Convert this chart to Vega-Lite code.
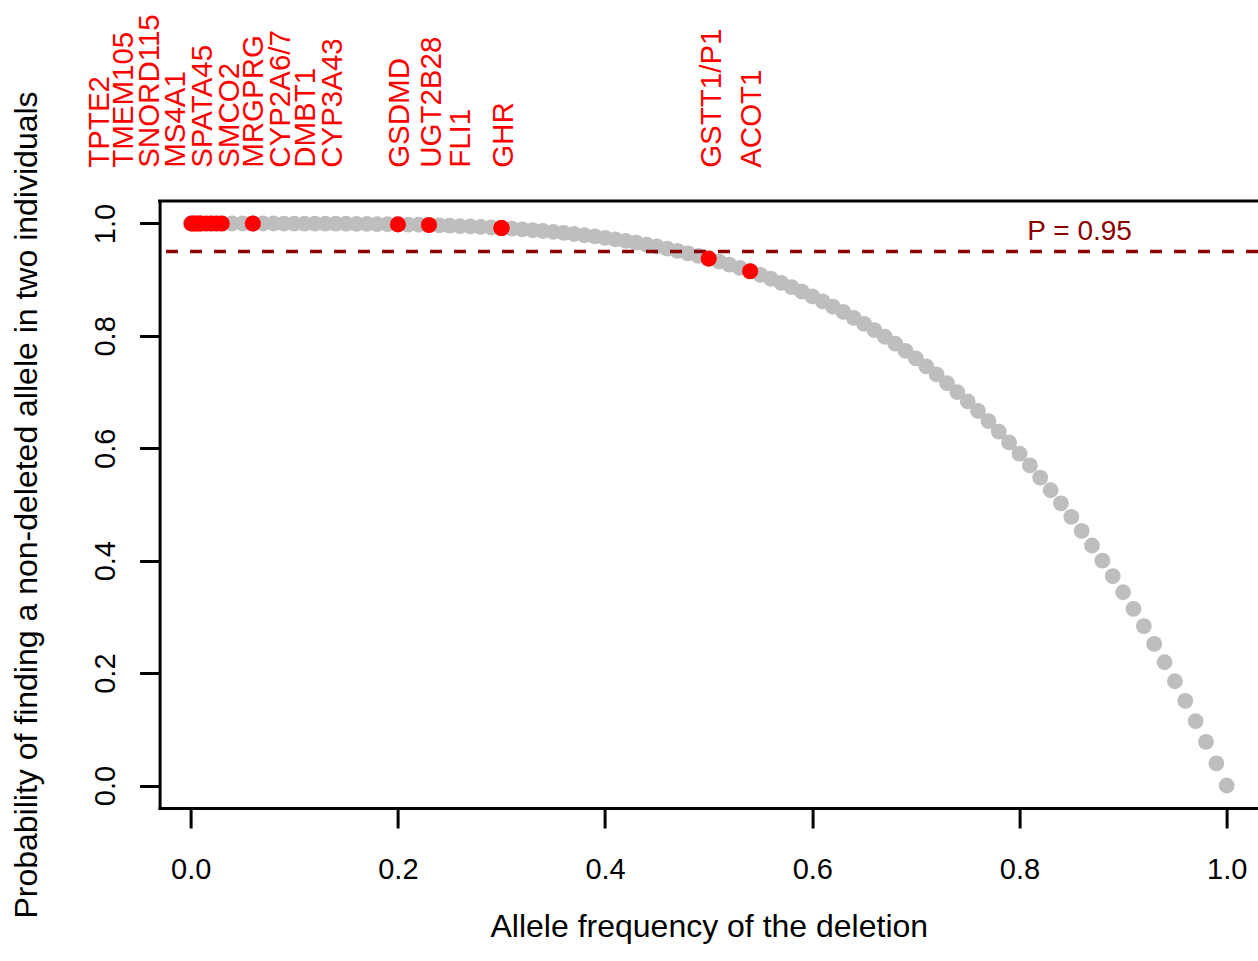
{
  "$schema": "https://vega.github.io/schema/vega-lite/v6.json",
  "width": 1098.4,
  "height": 607,
  "autosize": {"type": "none"},
  "padding": {"left": 159.6, "top": 201, "right": 0, "bottom": 153},
  "background": "white",
  "config": {
    "view": {"stroke": null},
    "font": "Liberation Sans",
    "axis": {
      "grid": false,
      "domain": true,
      "domainColor": "black",
      "domainWidth": 3,
      "domainCap": "square",
      "ticks": true,
      "tickColor": "black",
      "tickWidth": 3,
      "tickSize": 20,
      "labelFont": "Liberation Sans",
      "labelFontSize": 29,
      "labelColor": "black",
      "titleFont": "Liberation Sans",
      "titleFontSize": 32,
      "titleFontWeight": "normal",
      "titleColor": "black"
    }
  },
  "datasets": {
    "curve": [
      {"freq": 0.00, "prob": 1.0000}, {"freq": 0.01, "prob": 1.0000}, {"freq": 0.02, "prob": 1.0000},
      {"freq": 0.03, "prob": 1.0000}, {"freq": 0.04, "prob": 1.0000}, {"freq": 0.05, "prob": 1.0000},
      {"freq": 0.06, "prob": 1.0000}, {"freq": 0.07, "prob": 1.0000}, {"freq": 0.08, "prob": 1.0000},
      {"freq": 0.09, "prob": 0.9999}, {"freq": 0.10, "prob": 0.9999}, {"freq": 0.11, "prob": 0.9999},
      {"freq": 0.12, "prob": 0.9998}, {"freq": 0.13, "prob": 0.9997}, {"freq": 0.14, "prob": 0.9996},
      {"freq": 0.15, "prob": 0.9995}, {"freq": 0.16, "prob": 0.9993}, {"freq": 0.17, "prob": 0.9992},
      {"freq": 0.18, "prob": 0.9990}, {"freq": 0.19, "prob": 0.9987}, {"freq": 0.20, "prob": 0.9984},
      {"freq": 0.21, "prob": 0.9981}, {"freq": 0.22, "prob": 0.9977}, {"freq": 0.23, "prob": 0.9972},
      {"freq": 0.24, "prob": 0.9967}, {"freq": 0.25, "prob": 0.9961}, {"freq": 0.26, "prob": 0.9954},
      {"freq": 0.27, "prob": 0.9947}, {"freq": 0.28, "prob": 0.9939}, {"freq": 0.29, "prob": 0.9929},
      {"freq": 0.30, "prob": 0.9919}, {"freq": 0.31, "prob": 0.9908}, {"freq": 0.32, "prob": 0.9895},
      {"freq": 0.33, "prob": 0.9881}, {"freq": 0.34, "prob": 0.9866}, {"freq": 0.35, "prob": 0.9850},
      {"freq": 0.36, "prob": 0.9832}, {"freq": 0.37, "prob": 0.9813}, {"freq": 0.38, "prob": 0.9791},
      {"freq": 0.39, "prob": 0.9769}, {"freq": 0.40, "prob": 0.9744}, {"freq": 0.41, "prob": 0.9717},
      {"freq": 0.42, "prob": 0.9689}, {"freq": 0.43, "prob": 0.9658}, {"freq": 0.44, "prob": 0.9625},
      {"freq": 0.45, "prob": 0.9590}, {"freq": 0.46, "prob": 0.9552}, {"freq": 0.47, "prob": 0.9512},
      {"freq": 0.48, "prob": 0.9469}, {"freq": 0.49, "prob": 0.9424}, {"freq": 0.50, "prob": 0.9375},
      {"freq": 0.51, "prob": 0.9323}, {"freq": 0.52, "prob": 0.9269}, {"freq": 0.53, "prob": 0.9211},
      {"freq": 0.54, "prob": 0.9150}, {"freq": 0.55, "prob": 0.9085}, {"freq": 0.56, "prob": 0.9017},
      {"freq": 0.57, "prob": 0.8944}, {"freq": 0.58, "prob": 0.8868}, {"freq": 0.59, "prob": 0.8788},
      {"freq": 0.60, "prob": 0.8704}, {"freq": 0.61, "prob": 0.8615}, {"freq": 0.62, "prob": 0.8522},
      {"freq": 0.63, "prob": 0.8425}, {"freq": 0.64, "prob": 0.8322}, {"freq": 0.65, "prob": 0.8215},
      {"freq": 0.66, "prob": 0.8103}, {"freq": 0.67, "prob": 0.7985}, {"freq": 0.68, "prob": 0.7862},
      {"freq": 0.69, "prob": 0.7733}, {"freq": 0.70, "prob": 0.7599}, {"freq": 0.71, "prob": 0.7459},
      {"freq": 0.72, "prob": 0.7313}, {"freq": 0.73, "prob": 0.7160}, {"freq": 0.74, "prob": 0.7001},
      {"freq": 0.75, "prob": 0.6836}, {"freq": 0.76, "prob": 0.6664}, {"freq": 0.77, "prob": 0.6485},
      {"freq": 0.78, "prob": 0.6298}, {"freq": 0.79, "prob": 0.6105}, {"freq": 0.80, "prob": 0.5904},
      {"freq": 0.81, "prob": 0.5695}, {"freq": 0.82, "prob": 0.5479}, {"freq": 0.83, "prob": 0.5254},
      {"freq": 0.84, "prob": 0.5021}, {"freq": 0.85, "prob": 0.4780}, {"freq": 0.86, "prob": 0.4530},
      {"freq": 0.87, "prob": 0.4271}, {"freq": 0.88, "prob": 0.4003}, {"freq": 0.89, "prob": 0.3726},
      {"freq": 0.90, "prob": 0.3439}, {"freq": 0.91, "prob": 0.3143}, {"freq": 0.92, "prob": 0.2836},
      {"freq": 0.93, "prob": 0.2519}, {"freq": 0.94, "prob": 0.2193}, {"freq": 0.95, "prob": 0.1855},
      {"freq": 0.96, "prob": 0.1507}, {"freq": 0.97, "prob": 0.1147}, {"freq": 0.98, "prob": 0.0776},
      {"freq": 0.99, "prob": 0.0394}, {"freq": 1.00, "prob": 0.0000}
    ],
    "genes": [
      {"gene": "TPTE2", "freq": 0.001, "prob": 1.0000, "label_pos": -0.088},
      {"gene": "TMEM105", "freq": 0.003, "prob": 1.0000, "label_pos": -0.064},
      {"gene": "SNORD115", "freq": 0.005, "prob": 1.0000, "label_pos": -0.039},
      {"gene": "MS4A1", "freq": 0.008, "prob": 1.0000, "label_pos": -0.014},
      {"gene": "SPATA45", "freq": 0.010, "prob": 1.0000, "label_pos": 0.012},
      {"gene": "SMCO2", "freq": 0.015, "prob": 1.0000, "label_pos": 0.038},
      {"gene": "MRGPRG", "freq": 0.020, "prob": 1.0000, "label_pos": 0.061},
      {"gene": "CYP2A6/7", "freq": 0.025, "prob": 1.0000, "label_pos": 0.087},
      {"gene": "DMBT1", "freq": 0.030, "prob": 1.0000, "label_pos": 0.111},
      {"gene": "CYP3A43", "freq": 0.060, "prob": 1.0000, "label_pos": 0.137},
      {"gene": "GSDMD", "freq": 0.200, "prob": 0.9984, "label_pos": 0.202},
      {"gene": "UGT2B28", "freq": 0.230, "prob": 0.9972, "label_pos": 0.233},
      {"gene": "FLI1", "freq": 0.300, "prob": 0.9919, "label_pos": 0.261},
      {"gene": "GHR", "freq": 0.300, "prob": 0.9919, "label_pos": 0.302},
      {"gene": "GSTT1/P1", "freq": 0.500, "prob": 0.9375, "label_pos": 0.503},
      {"gene": "ACOT1", "freq": 0.540, "prob": 0.9150, "label_pos": 0.542}
    ],
    "threshold": [
      {"prob": 0.95, "note": "P = 0.95", "note_freq": 0.858}
    ]
  },
  "layer": [
    {
      "data": {"name": "curve"},
      "mark": {"type": "circle", "color": "#BEBEBE", "opacity": 1, "size": 250},
      "encoding": {
        "x": {
          "field": "freq",
          "type": "quantitative",
          "scale": {"domain": [-0.03, 1.0302], "nice": false, "zero": false},
          "axis": {
            "title": "Allele frequency of the deletion",
            "values": [0, 0.2, 0.4, 0.6, 0.8, 1.0],
            "format": ".1f",
            "labelPadding": 27,
            "titlePadding": 27
          }
        },
        "y": {
          "field": "prob",
          "type": "quantitative",
          "scale": {"domain": [-0.04, 1.04], "nice": false, "zero": false},
          "axis": {
            "title": "Probability of finding a non-deleted allele in two individuals",
            "values": [0, 0.2, 0.4, 0.6, 0.8, 1.0],
            "format": ".1f",
            "labelAngle": 270,
            "labelAlign": "center",
            "labelBaseline": "alphabetic",
            "labelPadding": 25,
            "titleBaseline": "alphabetic",
            "titlePadding": 55
          }
        }
      }
    },
    {
      "data": {"name": "threshold"},
      "mark": {"type": "rule", "color": "black", "strokeWidth": 3, "strokeCap": "square"},
      "encoding": {"y": {"datum": 1.04}}
    },
    {
      "data": {"name": "threshold"},
      "mark": {"type": "rule", "color": "#8B0000", "strokeWidth": 3.5, "strokeDash": [12, 12]},
      "encoding": {"y": {"field": "prob", "type": "quantitative"}}
    },
    {
      "data": {"name": "threshold"},
      "mark": {"type": "text", "color": "#8B0000", "font": "Liberation Sans", "fontSize": 28, "align": "center", "baseline": "alphabetic", "dy": -12},
      "encoding": {
        "x": {"field": "note_freq", "type": "quantitative"},
        "y": {"field": "prob", "type": "quantitative"},
        "text": {"field": "note"}
      }
    },
    {
      "data": {"name": "genes"},
      "mark": {"type": "circle", "color": "#FF0000", "opacity": 1, "size": 260},
      "encoding": {
        "x": {"field": "freq", "type": "quantitative"},
        "y": {"field": "prob", "type": "quantitative"}
      }
    },
    {
      "data": {"name": "genes"},
      "mark": {"type": "text", "color": "#FF0000", "font": "Liberation Sans", "fontSize": 29.5, "angle": 270, "align": "left", "baseline": "middle"},
      "encoding": {
        "x": {"field": "label_pos", "type": "quantitative"},
        "y": {"datum": 1.099},
        "text": {"field": "gene"}
      }
    }
  ]
}
